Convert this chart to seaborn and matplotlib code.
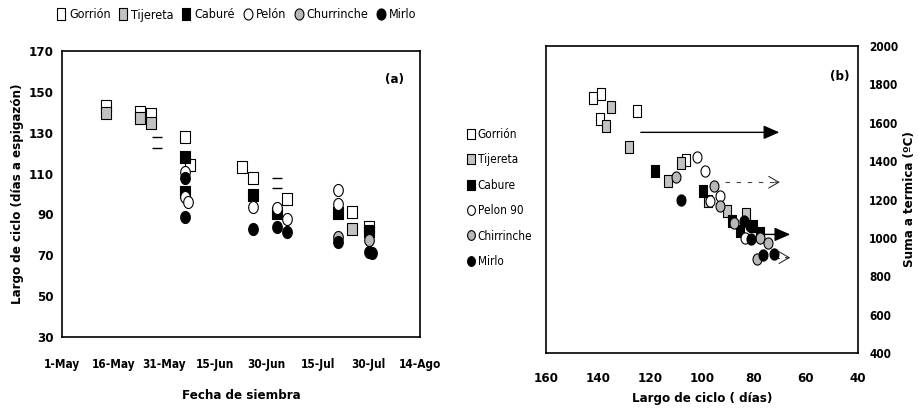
import numpy as np
import pandas as pd
import matplotlib
matplotlib.use("Agg")
import matplotlib.pyplot as plt
import seaborn as sns
from matplotlib import font_manager
from matplotlib.lines import Line2D

# ---------------- data ----------------
varieties = ["Gorrión", "Tijereta", "Caburé", "Pelón", "Churrinche", "Mirlo"]
legend_b_labels = ["Gorrión", "Tijereta", "Cabure", "Pelon 90", "Chirrinche", "Mirlo"]

# Panel (a): x = days after 1-May (fecha de siembra), y = largo de ciclo (días a espigazón)
a_gorrion_x = [13, 23, 26, 36, 37.5, 52.8, 56, 66, 85, 90]
a_gorrion_y = [143, 140, 139, 128, 114, 113, 108, 97.5, 91, 84]
a_tijereta_x = [13, 23, 26, 85]
a_tijereta_y = [139.6, 137, 135, 83]
a_cabure_x = [36, 36, 56, 63, 81, 90]
a_cabure_y = [118, 101, 99.5, 90.7, 90.7, 82]
a_pelon_x = [36, 36, 37, 56, 63, 66, 81, 81]
a_pelon_y = [111, 98.5, 96, 93.6, 93, 88, 102, 95]
a_churrinche_x = [81, 90]
a_churrinche_y = [79, 77.5]
a_mirlo_x = [36, 36, 56, 63, 66, 81, 90, 91]
a_mirlo_y = [108, 88.7, 83, 84, 81.4, 76.5, 71.5, 71]
a_dash_x = [28, 28, 63, 63]
a_dash_y = [128, 122.5, 108, 103]

a_tick_days = [0, 15, 30, 45, 60, 75, 90, 105]
a_tick_labels = ["1-May", "16-May", "31-May", "15-Jun", "30-Jun", "15-Jul", "30-Jul", "14-Ago"]
a_yticks = [30, 50, 70, 90, 110, 130, 150, 170]

# Panel (b): x = largo de ciclo (días), y = suma térmica (ºC)
b_gorrion_x = [142, 139, 139.2, 125, 106]
b_gorrion_y = [1728, 1750, 1619, 1660, 1408]
b_tijereta_x = [135, 137, 128, 113, 108, 97.7, 90.5, 83]
b_tijereta_y = [1681, 1584, 1473, 1295, 1390, 1191, 1139, 1122]
b_cabure_x = [118, 99.6, 88.6, 85.4, 80.3, 77.7]
b_cabure_y = [1347, 1243, 1088, 1036, 1062, 1026]
b_pelon_x = [102, 99, 93, 97, 83.5]
b_pelon_y = [1421, 1347, 1217, 1191, 1000]
b_churrinche_x = [110, 95.3, 93, 87.6, 77.7, 74.7, 79]
b_churrinche_y = [1318, 1269, 1165, 1078, 1000, 974, 891]
b_mirlo_x = [108, 84, 81.5, 81, 76.7, 72.2]
b_mirlo_y = [1196, 1088, 1062, 992, 909, 914]

b_xticks = [160, 140, 120, 100, 80, 60, 40]
b_yticks = [400, 600, 800, 1000, 1200, 1400, 1600, 1800, 2000]

# arrows in panel (b): start x, end x, level, dashed?
arrow_x0 = [124.6, 91, 77.7, 72]
arrow_x1 = [69.2, 69, 65, 65]
arrow_y = [1550, 1290, 1018, 897]
arrow_dashed = [False, True, False, True]

# ---------------- style ----------------
sns.set_theme(style="white")
names = {f.name for f in font_manager.fontManager.ttflist}
if "Liberation Sans Narrow" in names:
    FONT = "Liberation Sans Narrow"
    STRETCH = "normal"
else:
    FONT = "DejaVu Sans"
    STRETCH = "condensed"
plt.rcParams["font.family"] = [FONT, "DejaVu Sans"]
plt.rcParams["font.stretch"] = STRETCH
for key in ("text.color", "axes.labelcolor", "xtick.color", "ytick.color"):
    plt.rcParams[key] = "black"

rect_marker = [(-0.75, -1), (0.75, -1), (0.75, 1), (-0.75, 1), (-0.75, -1)]
_t = np.linspace(0, 2 * np.pi, 40)
oval_marker = list(zip(0.8 * np.cos(_t), np.sin(_t)))

styles = {
    "Gorrión": dict(marker=rect_marker, color="white"),
    "Tijereta": dict(marker=rect_marker, color="#c2c2c2"),
    "Caburé": dict(marker=rect_marker, color="black"),
    "Pelón": dict(marker=oval_marker, color="white"),
    "Churrinche": dict(marker=oval_marker, color="#b8b8b8"),
    "Mirlo": dict(marker=oval_marker, color="black"),
}

a_data = {
    "Gorrión": (a_gorrion_x, a_gorrion_y),
    "Tijereta": (a_tijereta_x, a_tijereta_y),
    "Caburé": (a_cabure_x, a_cabure_y),
    "Pelón": (a_pelon_x, a_pelon_y),
    "Churrinche": (a_churrinche_x, a_churrinche_y),
    "Mirlo": (a_mirlo_x, a_mirlo_y),
}
b_data = {
    "Gorrión": (b_gorrion_x, b_gorrion_y),
    "Tijereta": (b_tijereta_x, b_tijereta_y),
    "Caburé": (b_cabure_x, b_cabure_y),
    "Pelón": (b_pelon_x, b_pelon_y),
    "Churrinche": (b_churrinche_x, b_churrinche_y),
    "Mirlo": (b_mirlo_x, b_mirlo_y),
}

W, H = 919, 409
fig = plt.figure(figsize=(W / 100, H / 100), dpi=100)
fig.patch.set_facecolor("white")

def frac_rect(x0, y0, x1, y1):
    return [x0 / W, 1 - y1 / H, (x1 - x0) / W, (y1 - y0) / H]

axA = fig.add_axes(frac_rect(62, 51, 420, 337))
axB = fig.add_axes(frac_rect(546, 46, 858, 353))

for ax in (axA, axB):
    ax.set_facecolor("white")
    for sp in ax.spines.values():
        sp.set_visible(True)
        sp.set_color("black")
        sp.set_linewidth(1.2)

# ---- panel (a)
for name in varieties:
    xs, ys = a_data[name]
    df = pd.DataFrame({"x": xs, "y": ys})
    st = styles[name]
    sns.scatterplot(data=df, x="x", y="y", ax=axA, marker=st["marker"], color=st["color"],
                    edgecolor="black", linewidth=0.8, s=75, zorder=3, legend=False)
sns.scatterplot(data=pd.DataFrame({"x": a_dash_x, "y": a_dash_y}), x="x", y="y", ax=axA,
                marker="_", color="black", s=50, linewidth=1.0, zorder=3, legend=False)

axA.set_xlim(0, 105)
axA.set_ylim(30, 170)
axA.set_xticks(a_tick_days)
axA.set_xticklabels(a_tick_labels, fontsize=8.5, fontweight="bold")
axA.set_yticks(a_yticks)
axA.set_yticklabels([str(v) for v in a_yticks], fontsize=9.5, fontweight="bold")
axA.tick_params(axis="x", length=0, pad=15)
axA.tick_params(axis="y", length=3, width=1, direction="out", pad=3)
axA.set_xlabel("Fecha de siembra", fontsize=9.5, fontweight="bold", labelpad=13)
axA.set_ylabel("Largo de ciclo (días a espigazón)", fontsize=9.5, fontweight="bold", labelpad=3)
axA.text(0.93, 0.9, "(a)", transform=axA.transAxes, fontsize=9.5, fontweight="bold",
         ha="center", va="center")

# ---- panel (b)
for name in varieties:
    xs, ys = b_data[name]
    df = pd.DataFrame({"x": xs, "y": ys})
    st = styles[name]
    sns.scatterplot(data=df, x="x", y="y", ax=axB, marker=st["marker"], color=st["color"],
                    edgecolor="black", linewidth=0.8, s=65, zorder=3, legend=False)

for x0, x1, yv, dashed in zip(arrow_x0, arrow_x1, arrow_y, arrow_dashed):
    if dashed:
        axB.plot([x0, x1 + 2], [yv, yv], color="#444444", lw=0.8, ls=(0, (4, 6)), zorder=2)
        axB.annotate("", xy=(x1, yv), xytext=(x1 + 4, yv),
                     arrowprops=dict(arrowstyle="->,head_length=0.6,head_width=0.35",
                                     color="#333333", lw=0.8), zorder=2)
    else:
        axB.annotate("", xy=(x1, yv), xytext=(x0, yv),
                     arrowprops=dict(arrowstyle="-|>,head_length=0.8,head_width=0.35",
                                     color="black", lw=1.0, fc="black"), zorder=2)

axB.set_xlim(160, 40)
axB.set_ylim(400, 2000)
axB.set_xticks(b_xticks)
axB.set_xticklabels([str(v) for v in b_xticks], fontsize=9.5, fontweight="bold")
axB.yaxis.tick_right()
axB.yaxis.set_label_position("right")
axB.set_yticks(b_yticks)
axB.set_yticklabels([str(v) for v in b_yticks], fontsize=8.5, fontweight="bold")
axB.tick_params(axis="x", length=0, pad=14)
axB.tick_params(axis="y", length=0, pad=8)
axB.set_xlabel("Largo de ciclo ( días)", fontsize=9.5, fontweight="bold", labelpad=5)
axB.set_ylabel("Suma a termica (ºC)", fontsize=9.5, fontweight="bold", labelpad=3)
axB.text(0.94, 0.9, "(b)", transform=axB.transAxes, fontsize=9.5, fontweight="bold",
         ha="center", va="center")

# ---- legends
def handle(name, ms):
    st = styles[name]
    return Line2D([], [], linestyle="none", marker=st["marker"], markersize=ms,
                  markerfacecolor=st["color"], markeredgecolor="black", markeredgewidth=0.8)

top_handles = [handle(n, 8) for n in varieties]
fig.legend(top_handles, varieties, loc="center left", bbox_to_anchor=(56 / W, 1 - 15 / H),
           ncol=6, frameon=False, fontsize=9, handlelength=0.8, handletextpad=0.25,
           columnspacing=0.6, borderaxespad=0, borderpad=0)

side_handles = [handle(n, 7) for n in varieties]
fig.legend(side_handles, legend_b_labels, loc="upper left", bbox_to_anchor=(467 / W, 1 - 128 / H),
           ncol=1, frameon=False, fontsize=8.5, handlelength=0.6, handletextpad=0.3,
           labelspacing=1.05, borderaxespad=0, borderpad=0)

fig.savefig("out.png", dpi=100, facecolor="white")
